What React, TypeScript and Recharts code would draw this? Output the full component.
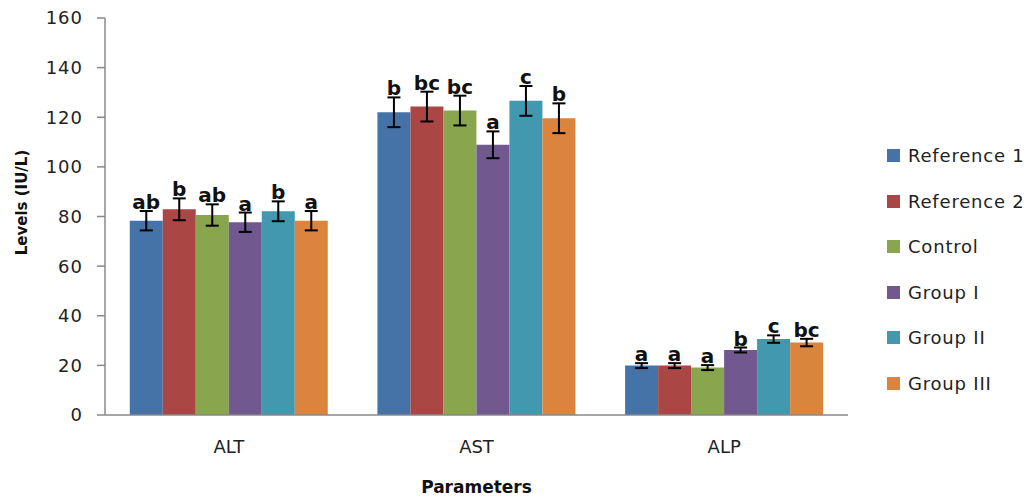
import React from 'react';
import { BarChart, Bar, XAxis, YAxis, ErrorBar, LabelList } from 'recharts';

const categories = ['ALT', 'AST', 'ALP'];
const seriesNames = ['Reference 1', 'Reference 2', 'Control', 'Group I', 'Group II', 'Group III'];
const seriesColors = ['#4573A7', '#AA4643', '#89A54E', '#71588F', '#4198AF', '#DB843D'];

const reference1 = [78.3, 122.0, 19.9];
const reference2 = [82.9, 124.3, 19.9];
const control = [80.6, 122.7, 19.1];
const groupI = [77.7, 108.9, 26.2];
const groupII = [82.1, 126.6, 30.6];
const groupIII = [78.3, 119.6, 29.2];

const reference1Err = [3.9, 6.0, 1.0];
const reference2Err = [4.4, 6.0, 1.0];
const control1Err = [4.3, 6.0, 1.0];
const groupIErr = [3.9, 5.4, 1.0];
const groupIIErr = [4.0, 6.0, 1.5];
const groupIIIErr = [3.9, 6.0, 1.5];

const reference1Letters = ['ab', 'b', 'a'];
const reference2Letters = ['b', 'bc', 'a'];
const controlLetters = ['ab', 'bc', 'a'];
const groupILetters = ['a', 'a', 'b'];
const groupIILetters = ['b', 'c', 'c'];
const groupIIILetters = ['a', 'b', 'bc'];

const yTicks = [0, 20, 40, 60, 80, 100, 120, 140, 160];

const seriesValues = [reference1, reference2, control, groupI, groupII, groupIII];
const seriesErrors = [reference1Err, reference2Err, control1Err, groupIErr, groupIIErr, groupIIIErr];
const seriesLetters = [reference1Letters, reference2Letters, controlLetters, groupILetters, groupIILetters, groupIIILetters];

const data = categories.map((c, i) => {
  const row: any = { category: c };
  seriesValues.forEach((vals, s) => {
    row['s' + s] = vals[i];
    row['e' + s] = seriesErrors[s][i];
    row['l' + s] = seriesLetters[s][i];
  });
  return row;
});

const FONT = '"DejaVu Sans", sans-serif';
const AXIS = '#888888';

const makeLabel = (s: number) => (props: any) => {
  const { x, y, width, height, index, value } = props;
  const v = seriesValues[s][index];
  const e = seriesErrors[s][index];
  const pxPer = Number(height) / v;
  const top = Number(y) - e * pxPer;
  return (
    <text
      x={Number(x) + Number(width) / 2}
      y={top - 2}
      textAnchor="middle"
      fontFamily={FONT}
      fontWeight="bold"
      fontSize={20}
      fill="#111"
    >
      {value}
    </text>
  );
};

const YLabel = (props: any) => {
  const vb = props.viewBox || {};
  const cx = 22;
  const cy = vb.y + vb.height / 2 - 14;
  return (
    <text
      x={cx}
      y={cy}
      transform={`rotate(-90, ${cx}, ${cy})`}
      textAnchor="middle"
      dominantBaseline="middle"
      fontFamily={FONT}
      fontWeight="bold"
      fontSize={15}
      fill="#111"
    >
      Levels (IU/L)
    </text>
  );
};

const XLabel = (props: any) => {
  const vb = props.viewBox || {};
  return (
    <text
      x={vb.x + vb.width / 2}
      y={493}
      textAnchor="middle"
      fontFamily={FONT}
      fontWeight="bold"
      fontSize={17}
      fill="#111"
    >
      Parameters
    </text>
  );
};

export default function App() {
  return (
    <div style={{ position: 'absolute', left: 0, top: 0, width: 1032, height: 498, background: '#fff' }}>
      <BarChart
        width={1032}
        height={498}
        data={data}
        margin={{ top: 18, right: 184, bottom: 23, left: 0 }}
        barCategoryGap="10%"
        barGap={0}
      >
        <YAxis
          width={105}
          domain={[0, 160]}
          ticks={yTicks}
          interval={0}
          tickSize={8}
          tickMargin={14}
          axisLine={{ stroke: AXIS, strokeWidth: 1.5 }}
          tickLine={{ stroke: AXIS, strokeWidth: 1.5 }}
          tick={{ fontFamily: FONT, fontSize: 18, fill: '#222', letterSpacing: 1 }}
          label={<YLabel />}
        />
        <XAxis
          dataKey="category"
          height={60}
          tickSize={0}
          tickMargin={25}
          tickLine={false}
          axisLine={{ stroke: AXIS, strokeWidth: 1.5 }}
          tick={{ fontFamily: FONT, fontSize: 18, fill: '#222' }}
          label={<XLabel />}
        />
        {seriesNames.map((name, s) => (
          <Bar key={name} dataKey={'s' + s} name={name} fill={seriesColors[s]} isAnimationActive={false}>
            <ErrorBar dataKey={'e' + s} width={6.5} stroke="#000" strokeWidth={2} />
            <LabelList dataKey={'l' + s} content={makeLabel(s)} />
          </Bar>
        ))}
      </BarChart>
      <div style={{ position: 'absolute', left: 887, top: 133, fontFamily: FONT }}>
        {seriesNames.map((name, s) => (
          <div key={name} style={{ display: 'flex', alignItems: 'center', height: 45.5 }}>
            <div style={{ width: 13, height: 13, background: seriesColors[s], marginRight: 8 }} />
            <span style={{ fontSize: 18, color: '#222', letterSpacing: 0.8, whiteSpace: 'nowrap' }}>{name}</span>
          </div>
        ))}
      </div>
    </div>
  );
}
